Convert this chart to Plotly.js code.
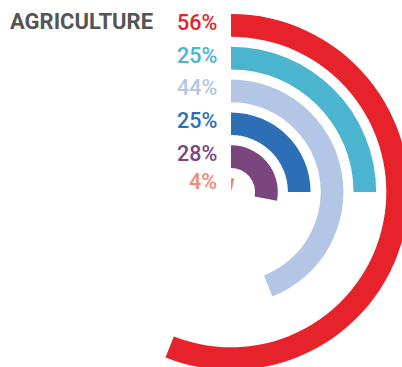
<!DOCTYPE html>
<html>
<head>
<meta charset="utf-8">
<script src="https://cdn.plot.ly/plotly-3.0.1.min.js"></script>
<style>
  html, body { margin: 0; padding: 0; background: #ffffff; overflow: hidden; width: 402px; height: 367px; }
  #chart { width: 420px; height: 380px; }
</style>
</head>
<body>
<div id="chart"></div>
<script>
// ---- data ----
var title = "AGRICULTURE";
var categories = ["Series 1", "Series 2", "Series 3", "Series 4", "Series 5", "Series 6"];
var values = [56, 25, 44, 25, 28, 4];           // percent
var valueLabels = ["56%", "25%", "44%", "25%", "28%", "4%"];
var colors = ["#E6232A", "#4BB4CE", "#B3C6E5", "#2C6FB7", "#7B457E", "#F08A74"];

// ---- layout constants ----
var W = 420, H = 380;
var CX = 231, CY = 192, R = 180;      // polar centre and radius in px
var outer0 = 178, step = 32.8, thick = 22.7;

var traces = [];
var annotations = [];
for (var i = 0; i < values.length; i++) {
  var ro = outer0 - step * i;
  var ri = Math.max(0, ro - thick);
  var deg = values[i] / 100 * 360;
  traces.push({
    type: "barpolar",
    name: categories[i],
    r: [ro - ri],
    base: [ri],
    theta: [deg / 2],
    width: [deg],
    marker: { color: colors[i], line: { width: 0 } },
    hoverinfo: "skip",
    showlegend: false
  });
  var cyPx = CY - (ro + ri) / 2 - 3;
  annotations.push({
    xref: "paper", yref: "paper",
    x: 219 / W, y: 1 - cyPx / H,
    xanchor: "right", yanchor: "middle",
    showarrow: false,
    text: valueLabels[i],
    font: { family: "Roboto, Arial, sans-serif", size: 21.5, weight: 500, color: colors[i] }
  });
}
annotations.push({
  xref: "paper", yref: "paper",
  x: 8 / W, y: 1 - 22 / H,
  xanchor: "left", yanchor: "middle",
  showarrow: false,
  text: "<b>" + title + "</b>",
  font: { family: "Roboto, Arial, sans-serif", size: 22, color: "#555555" }
});

var layout = {
  width: W, height: H,
  margin: { l: 0, r: 0, t: 0, b: 0 },
  paper_bgcolor: "#ffffff",
  plot_bgcolor: "#ffffff",
  showlegend: false,
  polar: {
    domain: { x: [(CX - R) / W, (CX + R) / W], y: [1 - (CY + R) / H, 1 - (CY - R) / H] },
    bgcolor: "rgba(0,0,0,0)",
    hole: 0,
    barmode: "overlay",
    radialaxis: { range: [0, R], visible: false, showgrid: false, showline: false, showticklabels: false, ticks: "" },
    angularaxis: { rotation: 90, direction: "clockwise", visible: false, showgrid: false, showline: false, showticklabels: false, ticks: "" }
  },
  annotations: annotations
};

Plotly.newPlot("chart", traces, layout, { displayModeBar: false, staticPlot: true });
</script>
</body>
</html>
